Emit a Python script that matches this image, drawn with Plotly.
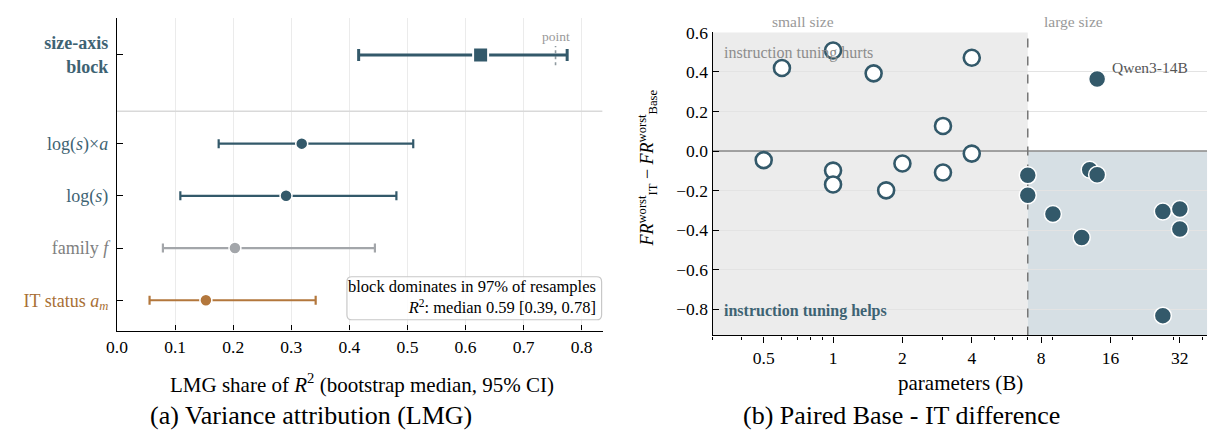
import numpy as np
import plotly.graph_objects as go

W, H = 1214, 438
FONT = "Liberation Serif"
TEAL = "#33596a"
GRAY = "#a3a6aa"
BROWN = "#b3773c"
TEAL_TXT = "#3e6373"
GRAY_TXT = "#7f7f7f"
BROWN_TXT = "#a86f35"

def px(x):
    return x / W

def py(y):
    return 1 - y / H

# ---------------- data: panel (a) ----------------
term_labels = ["IT status <i>a<sub>m</sub></i>", "family <i>f</i>", "log(<i>s</i>)", "log(<i>s</i>)×<i>a</i>"]
term_pos = [0, 1, 2, 3]
term_med = [0.153, 0.203, 0.291, 0.318]
term_lo = [0.056, 0.079, 0.109, 0.175]
term_hi = [0.342, 0.444, 0.481, 0.510]
term_colors = [BROWN, GRAY, TEAL, TEAL]
term_txt_colors = [BROWN_TXT, GRAY_TXT, TEAL_TXT, TEAL_TXT]

block_label = "size-axis<br>block"
block_pos = 4.7
block_med = 0.626
block_lo = 0.416
block_hi = 0.775
block_point = 0.755
sep_pos = 3.62

lmg_ticks = [0.0, 0.1, 0.2, 0.3, 0.4, 0.5, 0.6, 0.7, 0.8]
lmg_min, lmg_max = 0.0, 0.836
row_min, row_max = -0.58, 5.41

# ---------------- data: panel (b) ----------------
small_sizes = [0.5, 0.6, 1.0, 1.0, 1.0, 1.5, 1.7, 2.0, 3.0, 3.0, 4.0, 4.0]
small_diff = [-0.046, 0.420, 0.509, -0.099, -0.169, 0.393, -0.199, -0.063, 0.127, -0.109, 0.472, -0.013]
large_sizes = [7, 7, 9, 12, 13, 14, 14, 27, 27, 32, 32]
large_diff = [-0.123, -0.224, -0.319, -0.438, -0.095, -0.120, 0.364, -0.306, -0.833, -0.293, -0.395]
highlight_name = "Qwen3-14B"
highlight_size = 14
highlight_diff = 0.364

size_split = 7.0
x_min, x_max = 0.3, 42.0
y_min, y_max = -0.933, 0.6
param_ticks = [0.5, 1, 2, 4, 8, 16, 32]
param_ticktext = ["0.5", "1", "2", "4", "8", "16", "32"]
param_minor = [0.3, 0.4, 0.6, 0.7, 0.8, 0.9, 3, 5, 6, 7, 9, 20, 30, 40]
diff_ticks = [-0.8, -0.6, -0.4, -0.2, 0.0, 0.2, 0.4, 0.6]

fig = go.Figure()

# ---- panel (a) ----
fig.add_trace(go.Scatter(
    x=[lmg_min, lmg_max], y=[sep_pos, sep_pos], mode="lines", xaxis="x", yaxis="y",
    line=dict(color="#d9d9d9", width=1.6), showlegend=False, hoverinfo="skip"))

for p, m, lo, hi, c in zip(term_pos, term_med, term_lo, term_hi, term_colors):
    fig.add_trace(go.Scatter(
        x=[m], y=[p], mode="markers", xaxis="x", yaxis="y",
        marker=dict(symbol="circle", size=12, color=c, line=dict(color="white", width=1.5)),
        error_x=dict(type="data", symmetric=False, array=[hi - m], arrayminus=[m - lo],
                     color=c, thickness=2.2, width=4.5),
        showlegend=False, hoverinfo="skip"))

fig.add_trace(go.Scatter(
    x=[block_point, block_point], y=[block_pos - 0.2, block_pos + 0.17], mode="lines",
    xaxis="x", yaxis="y", line=dict(color="#8f9aa0", width=1.6, dash="dot"),
    showlegend=False, hoverinfo="skip"))

fig.add_trace(go.Scatter(
    x=[block_med], y=[block_pos], mode="markers", xaxis="x", yaxis="y",
    marker=dict(symbol="square", size=15, color=TEAL, line=dict(color="white", width=2)),
    error_x=dict(type="data", symmetric=False, array=[block_hi - block_med],
                 arrayminus=[block_med - block_lo], color=TEAL, thickness=3, width=6),
    showlegend=False, hoverinfo="skip"))

# ---- panel (b) ----
fig.add_trace(go.Scatter(
    x=[x_min, x_max], y=[0, 0], mode="lines", xaxis="x2", yaxis="y2",
    line=dict(color="#888888", width=1.6), showlegend=False, hoverinfo="skip"))
fig.add_trace(go.Scatter(
    x=[size_split, size_split], y=[y_min, y_max], mode="lines", xaxis="x2", yaxis="y2",
    line=dict(color="#777777", width=1.5, dash="dash"), showlegend=False, hoverinfo="skip"))

fig.add_trace(go.Scatter(
    x=small_sizes, y=small_diff, mode="markers", xaxis="x2", yaxis="y2",
    marker=dict(symbol="circle", size=16, color="white", line=dict(color=TEAL, width=2.6)),
    showlegend=False, hoverinfo="skip"))
fig.add_trace(go.Scatter(
    x=large_sizes, y=large_diff, mode="markers", xaxis="x2", yaxis="y2",
    marker=dict(symbol="circle", size=17, color=TEAL, line=dict(color="white", width=1.5)),
    showlegend=False, hoverinfo="skip"))

split_frac = (np.log10(size_split) - np.log10(x_min)) / (np.log10(x_max) - np.log10(x_min))

shapes = [
    dict(type="rect", xref="x2 domain", yref="y2 domain", x0=0, x1=split_frac, y0=0, y1=1,
         fillcolor="#ececec", line=dict(width=0), layer="below"),
    dict(type="rect", xref="x2 domain", yref="y2", x0=split_frac, x1=1, y0=y_min, y1=0,
         fillcolor="#d6dfe4", line=dict(width=0), layer="below"),
]

# rounded legend box for panel (a)
bx0, bx1, by0, by1, r = 339, 596, 273, 317, 5
path = (f"M {px(bx0 + r)} {py(by0)} L {px(bx1 - r)} {py(by0)} Q {px(bx1)} {py(by0)} {px(bx1)} {py(by0 + r)} "
        f"L {px(bx1)} {py(by1 - r)} Q {px(bx1)} {py(by1)} {px(bx1 - r)} {py(by1)} "
        f"L {px(bx0 + r)} {py(by1)} Q {px(bx0)} {py(by1)} {px(bx0)} {py(by1 - r)} "
        f"L {px(bx0)} {py(by0 + r)} Q {px(bx0)} {py(by0)} {px(bx0 + r)} {py(by0)} Z")
shapes.append(dict(type="path", xref="paper", yref="paper", path=path,
                   fillcolor="rgba(255,255,255,0.85)", line=dict(color="#c8c8c8", width=1.2),
                   layer="above"))

annotations = [
    dict(text="point", xref="x", yref="y", x=block_point, y=block_pos + 0.36, showarrow=False,
         font=dict(family=FONT, size=13.5, color="#999999")),
    dict(text="block dominates in 97% of resamples<br><i>R</i><sup>2</sup>: median 0.59 [0.39, 0.78]",
         xref="paper", yref="paper", x=px(592), y=py(294), xanchor="right", yanchor="middle",
         align="right", showarrow=False, font=dict(family=FONT, size=16.5, color="black")),
    dict(text="LMG share of <i>R</i><sup>2</sup> (bootstrap median, 95% CI)", xref="paper", yref="paper",
         x=px(354), y=py(382), xanchor="center", yanchor="middle", showarrow=False,
         font=dict(family=FONT, size=21, color="black")),
    dict(text="(a) Variance attribution (LMG)", xref="paper", yref="paper",
         x=px(303), y=py(415), xanchor="center", yanchor="middle", showarrow=False,
         font=dict(family=FONT, size=26, color="black")),
    # panel (b)
    dict(text="small size", xref="x2", yref="paper", x=np.log10(0.74), y=py(12),
         xanchor="center", yanchor="middle", showarrow=False,
         font=dict(family=FONT, size=15.5, color="#999999")),
    dict(text="large size", xref="x2", yref="paper", x=np.log10(11.1), y=py(12),
         xanchor="center", yanchor="middle", showarrow=False,
         font=dict(family=FONT, size=15.5, color="#999999")),
    dict(text="instruction tuning hurts", xref="paper", yref="paper", x=px(718), y=py(44),
         xanchor="left", yanchor="middle", showarrow=False,
         font=dict(family=FONT, size=16, color="#8c8c8c")),
    dict(text="<b>instruction tuning helps</b>", xref="paper", yref="paper", x=px(718), y=py(308),
         xanchor="left", yanchor="middle", showarrow=False,
         font=dict(family=FONT, size=16, color=TEAL_TXT)),
    dict(text=highlight_name, xref="x2", yref="y2", x=np.log10(highlight_size), y=highlight_diff,
         xanchor="left", yanchor="middle", xshift=13, yshift=12, showarrow=False,
         font=dict(family=FONT, size=15.5, color="#555555")),
    dict(text="<i>FR</i><sup>worst</sup><sub>IT</sub> − <i>FR</i><sup>worst</sup><sub>Base</sub>",
         xref="paper", yref="paper", x=px(642), y=py(162), textangle=-90,
         xanchor="center", yanchor="middle", showarrow=False,
         font=dict(family=FONT, size=18, color="black")),
    dict(text="parameters (B)", xref="paper", yref="paper", x=px(958), y=py(382),
         xanchor="center", yanchor="middle", showarrow=False,
         font=dict(family=FONT, size=21, color="black")),
    dict(text="(b) Paired Base - IT difference", xref="paper", yref="paper",
         x=px(899), y=py(415), xanchor="center", yanchor="middle", showarrow=False,
         font=dict(family=FONT, size=26, color="black")),
]

ytick_vals = term_pos + [block_pos]
ytick_text = [f"<span style='color:{c}'>{t}</span>" for t, c in zip(term_labels, term_txt_colors)]
ytick_text.append(f"<span style='color:{TEAL_TXT}'><b>{block_label}</b></span>")

fig.update_layout(
    width=W, height=H,
    margin=dict(l=0, r=0, t=0, b=0),
    paper_bgcolor="white", plot_bgcolor="white",
    font=dict(family=FONT, color="black"),
    shapes=shapes, annotations=annotations,
    xaxis=dict(domain=[px(107), px(597)], range=[lmg_min, lmg_max], tickvals=lmg_ticks,
               ticktext=[f"{v:.1f}" for v in lmg_ticks],
               ticks="inside", ticklen=5, tickwidth=1, tickcolor="black",
               showline=True, linecolor="black", linewidth=1.3,
               showgrid=True, gridcolor="#ebebeb", gridwidth=1, zeroline=False,
               tickfont=dict(family=FONT, size=17.5, color="black"), anchor="y"),
    yaxis=dict(domain=[py(328), py(8)], range=[row_min, row_max], tickvals=ytick_vals, ticktext=ytick_text,
               ticks="inside", ticklen=6, tickwidth=1, tickcolor="black",
               showline=True, linecolor="black", linewidth=1.3,
               showgrid=False, zeroline=False, ticklabelstandoff=4,
               tickfont=dict(family=FONT, size=18), anchor="x"),
    xaxis2=dict(domain=[px(708), px(1207)], type="log", range=[np.log10(x_min), np.log10(x_max)],
                tickvals=param_ticks, ticktext=param_ticktext,
                ticks="outside", ticklen=6, tickwidth=1, tickcolor="black",
                minor=dict(tickvals=param_minor, ticks="outside", ticklen=3.5, tickwidth=1,
                           tickcolor="black", showgrid=False),
                showline=True, linecolor="black", linewidth=1.3,
                showgrid=False, zeroline=False,
                tickfont=dict(family=FONT, size=17.5, color="black"), anchor="y2"),
    yaxis2=dict(domain=[py(333), py(23)], range=[y_min, y_max], tickvals=diff_ticks,
                ticktext=[f"{v:.1f}".replace("-", "−") for v in diff_ticks],
                ticks="inside", ticklen=6, tickwidth=1, tickcolor="black",
                showline=True, linecolor="black", linewidth=1.3,
                showgrid=True, gridcolor="#e3e3e3", gridwidth=1, zeroline=False,
                tickfont=dict(family=FONT, size=17.5, color="black"), anchor="x2"),
)

fig.write_html("out.html", config={"displayModeBar": False},
               post_script="document.documentElement.style.overflow='hidden';"
                           "document.body.style.margin='0';document.body.style.overflow='hidden';")
